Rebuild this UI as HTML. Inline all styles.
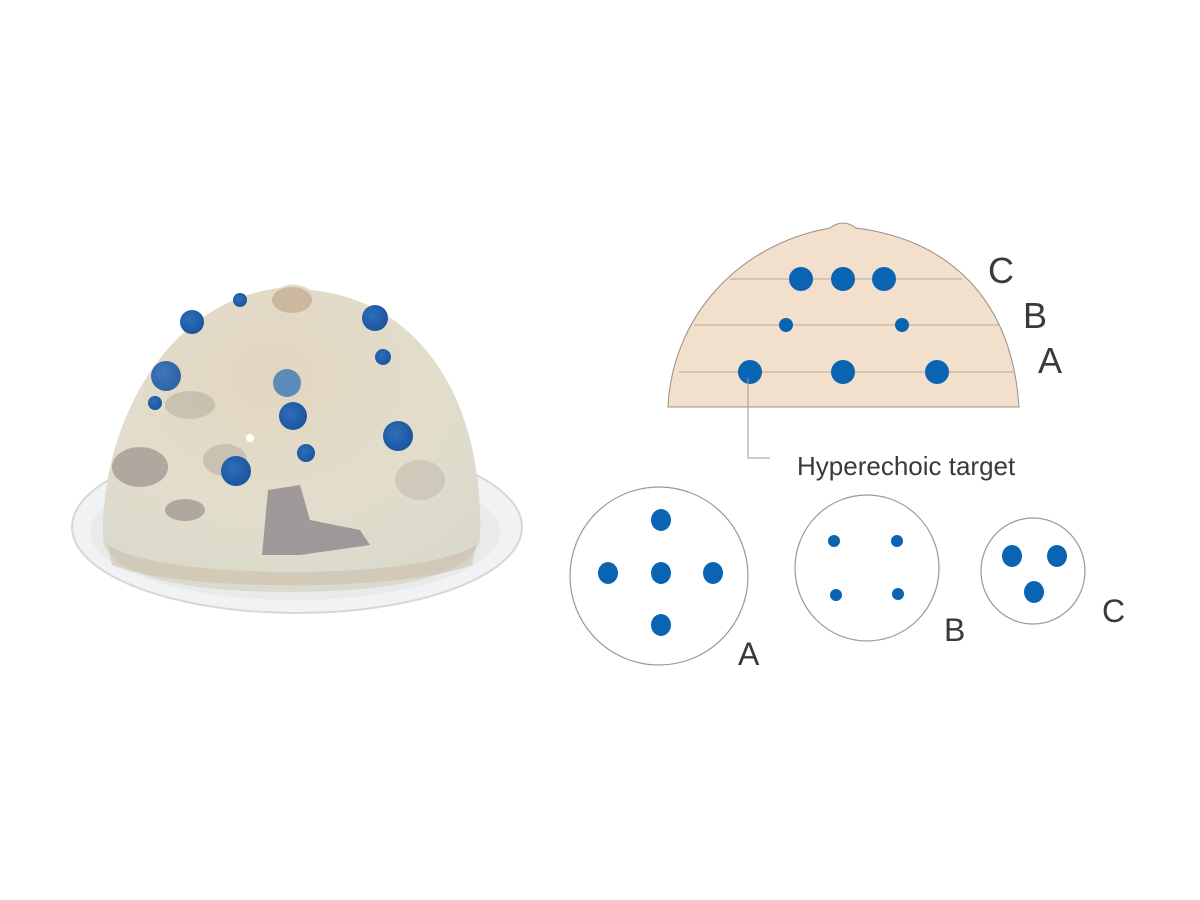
<!DOCTYPE html>
<html><head><meta charset="utf-8"><style>
html,body{margin:0;padding:0;background:#fff;}
svg{display:block}
text{font-family:"Liberation Sans",sans-serif;fill:#3a3a3a}
</style></head><body>
<svg width="1200" height="900" viewBox="0 0 1200 900" xmlns="http://www.w3.org/2000/svg">
<defs>
<radialGradient id="dome" cx="0.45" cy="0.3" r="0.75">
<stop offset="0" stop-color="#e2d6c0"/>
<stop offset="0.6" stop-color="#e2ddcc"/>
<stop offset="1" stop-color="#d9d9cc"/>
</radialGradient>
<radialGradient id="bd" cx="0.4" cy="0.4" r="0.6">
<stop offset="0" stop-color="#2d6fb8"/>
<stop offset="1" stop-color="#1c55a0"/>
</radialGradient>
</defs>
<ellipse cx="297" cy="527" rx="225" ry="86" fill="#f1f2f4" stroke="#d4d8dc" stroke-width="2"/>
<ellipse cx="295" cy="532" rx="205" ry="68" fill="#e8eaec"/>
<path d="M103,540 C100,420 170,300 280,288 Q295,280 310,290 C420,300 485,400 480,540 C470,580 380,592 290,592 C200,592 110,580 103,540 Z" fill="url(#dome)"/>
<path d="M108,545 C160,580 420,582 476,545 L472,565 C400,592 180,592 112,565 Z" fill="#c9b9a4" opacity="0.5"/>
<ellipse cx="292" cy="300" rx="20" ry="13" fill="#cbb89e"/>
<ellipse cx="140" cy="467" rx="28" ry="20" fill="#8f8580" opacity="0.6"/>
<ellipse cx="185" cy="510" rx="20" ry="11" fill="#8f8580" opacity="0.6"/>
<ellipse cx="190" cy="405" rx="25" ry="14" fill="#a59c92" opacity="0.4"/>
<ellipse cx="225" cy="460" rx="22" ry="16" fill="#a59c92" opacity="0.4"/>
<path d="M268,490 L300,485 L310,520 L360,530 L370,545 L300,555 L262,555 Z" fill="#7d7580" opacity="0.65"/>
<ellipse cx="420" cy="480" rx="25" ry="20" fill="#b5ad9f" opacity="0.4"/>
<circle cx="192" cy="322" r="12" fill="url(#bd)"/>
<circle cx="240" cy="300" r="7" fill="url(#bd)"/>
<circle cx="375" cy="318" r="13" fill="url(#bd)"/>
<circle cx="383" cy="357" r="8" fill="url(#bd)"/>
<circle cx="166" cy="376" r="15" fill="url(#bd)" opacity="0.9"/>
<circle cx="155" cy="403" r="7" fill="url(#bd)"/>
<circle cx="287" cy="383" r="14" fill="#3b77b7" opacity="0.8"/>
<circle cx="293" cy="416" r="14" fill="url(#bd)"/>
<circle cx="398" cy="436" r="15" fill="url(#bd)"/>
<circle cx="306" cy="453" r="9" fill="url(#bd)"/>
<circle cx="236" cy="471" r="15" fill="url(#bd)"/>
<circle cx="250" cy="438" r="4" fill="#fff"/>
<!-- right diagram dome -->
<path d="M668,407 C672,320 735,245 830,228 Q843,218 856,228 C950,240 1012,300 1019,407 Z" fill="#f2dfcc" stroke="#9a8f85" stroke-width="1"/>
<g stroke="#b8a898" stroke-width="1">
<line x1="730" y1="279" x2="962" y2="279"/>
<line x1="694" y1="325" x2="1000" y2="325"/>
<line x1="679" y1="372" x2="1014" y2="372"/>
</g>
<g fill="#0a64b4">
<circle cx="801" cy="279" r="12"/><circle cx="843" cy="279" r="12"/><circle cx="884" cy="279" r="12"/>
<circle cx="786" cy="325" r="7"/><circle cx="902" cy="325" r="7"/>
<circle cx="750" cy="372" r="12"/><circle cx="843" cy="372" r="12"/><circle cx="937" cy="372" r="12"/>
</g>
<text x="988" y="283" font-size="36">C</text>
<text x="1023" y="328" font-size="36">B</text>
<text x="1038" y="373" font-size="36">A</text>
<polyline points="748,378 748,458 770,458" fill="none" stroke="#999" stroke-width="1"/>
<text x="797" y="475" font-size="26">Hyperechoic target</text>
<!-- circles -->
<ellipse cx="659" cy="576" rx="89" ry="89" fill="#fff" stroke="#999" stroke-width="1.2"/>
<ellipse cx="867" cy="568" rx="72" ry="73" fill="#fff" stroke="#999" stroke-width="1.2"/>
<ellipse cx="1033" cy="571" rx="52" ry="53" fill="#fff" stroke="#999" stroke-width="1.2"/>
<g fill="#0a64b4">
<ellipse cx="661" cy="520" rx="10" ry="11"/><ellipse cx="661" cy="573" rx="10" ry="11"/><ellipse cx="661" cy="625" rx="10" ry="11"/>
<ellipse cx="608" cy="573" rx="10" ry="11"/><ellipse cx="713" cy="573" rx="10" ry="11"/>
<circle cx="834" cy="541" r="6"/><circle cx="897" cy="541" r="6"/><circle cx="836" cy="595" r="6"/><circle cx="898" cy="594" r="6"/>
<ellipse cx="1012" cy="556" rx="10" ry="11"/><ellipse cx="1057" cy="556" rx="10" ry="11"/><ellipse cx="1034" cy="592" rx="10" ry="11"/>
</g>
<text x="738" y="665" font-size="32">A</text>
<text x="944" y="641" font-size="32">B</text>
<text x="1102" y="622" font-size="32">C</text>
</svg>
</body></html>
